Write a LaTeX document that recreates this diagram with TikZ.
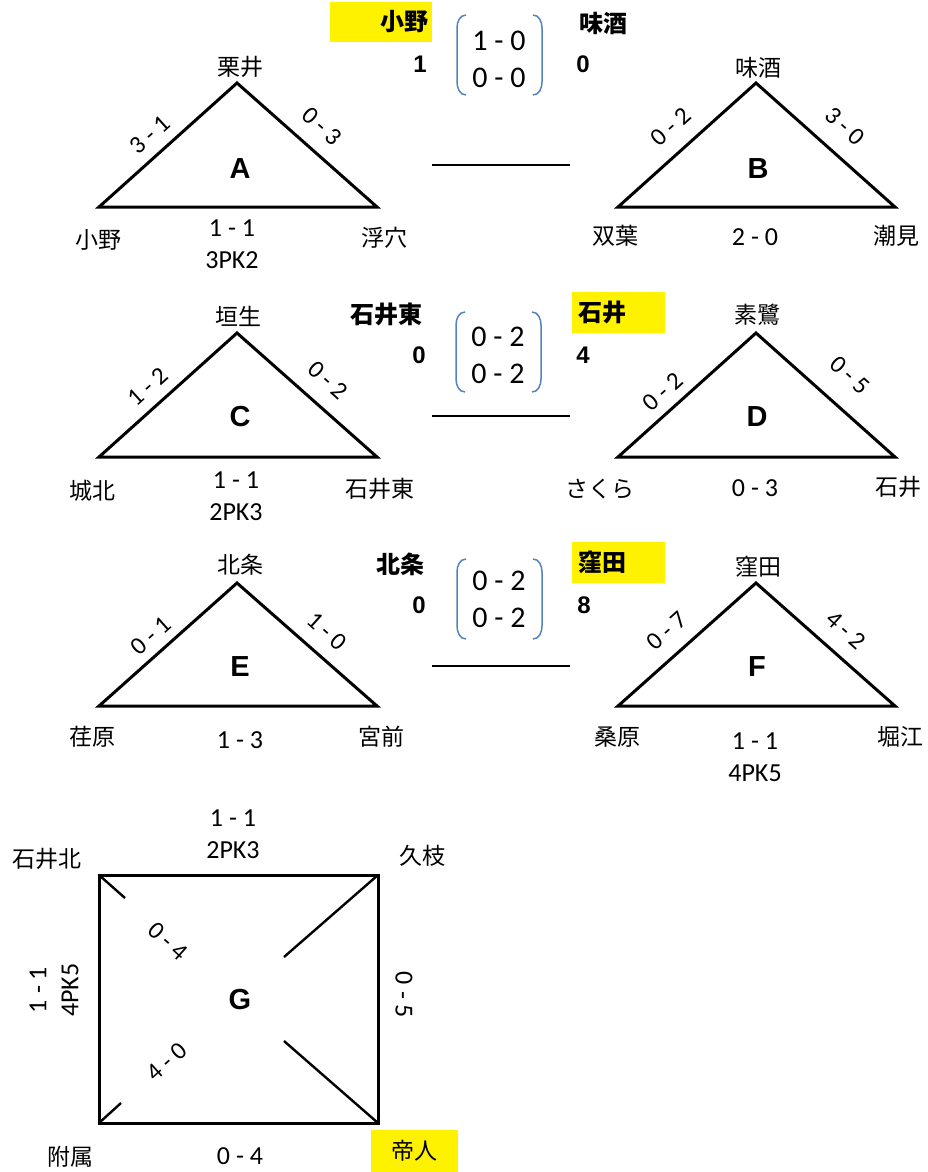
\documentclass[tikz,border=0pt]{standalone}
\usepackage{fontspec}
\setmainfont{Noto Sans CJK JP}
\newfontfamily\numfont{Carlito}
\newfontfamily\latfont{Liberation Sans}
\definecolor{bracketblue}{RGB}{84,130,190}
\tikzset{
    team/.style={inner sep=0pt, font=\fontsize{23}{26}\selectfont},
    head/.style={inner sep=0pt, font=\fontsize{24}{26}\selectfont\bfseries},
    score/.style={inner sep=0pt, align=center, font=\numfont\fontsize{26}{32}\selectfont},
    side/.style={inner sep=0pt, font=\numfont\fontsize{25}{28}\selectfont},
    final/.style={inner sep=0pt, align=center, font=\numfont\fontsize{30}{37}\selectfont},
    group/.style={inner sep=0pt, font=\latfont\fontsize{29}{30}\selectfont\bfseries},
    goals/.style={inner sep=0pt, font=\latfont\fontsize{24}{24}\selectfont\bfseries},
    winner/.style={fill=yellow, minimum width=93pt, minimum height=41pt, text width=81pt},
    league/.style={line width=3pt},
    cut/.style={line width=2.4pt},
    link/.style={line width=2.2pt},
    paren/.style={draw=bracketblue, line width=1.5pt},
}
\begin{document}
\begin{tikzpicture}[x=1pt, y=-1pt]
    \useasboundingbox (0,0) rectangle (928,1172);
    % group A
    \coordinate (a1) at (237,83);
    \coordinate (a2) at (99,207);
    \coordinate (a3) at (377,207);
    \draw[league] (a1) -- (a2) -- (a3) -- cycle;
    \node[team] (kurii) at (240,67) {栗井};
    \node[team] (ono) at (98,240) {小野};
    \node[team] (ukena) at (384,238) {浮穴};
    \node[side, rotate=42] (a12) at (150,135) {3 - 1};
    \node[side, rotate=-42] (a13) at (322,126) {0 - 3};
    \node[score] (a23) at (232,244) {1 - 1\\3PK2};
    \node[group] (ga) at (240,169) {A};
    % group B
    \coordinate (b1) at (756,83);
    \coordinate (b2) at (618,207);
    \coordinate (b3) at (895,207);
    \draw[league] (b1) -- (b2) -- (b3) -- cycle;
    \node[team] (misake) at (758,68) {味酒};
    \node[team] (futaba) at (615,236) {双葉};
    \node[team] (ushiomi) at (896,236) {潮見};
    \node[side, rotate=42] (b12) at (671,127) {0 - 2};
    \node[side, rotate=-42] (b13) at (845,126) {3 - 0};
    \node[score] (b23) at (755,237) {2 - 0};
    \node[group] (gb) at (758,169) {B};
    % final A-B
    \node[head, winner, minimum width=102pt, minimum height=40pt, text width=94pt, align=right] (win1) at (381,22) {小野};
    \node[head] (lose1) at (603,23) {味酒};
    \node[goals] (g1l) at (420,64) {1};
    \node[goals] (g1r) at (583,64) {0};
    \node[final] (s1) at (499,59) {1 - 0\\0 - 0};
    \draw[paren] (466,15) to[out=180, in=90] (457,28) -- (457,82) to[out=-90, in=180] (466,95);
    \draw[paren] (533,15) to[out=0, in=90] (542,28) -- (542,82) to[out=-90, in=0] (533,95);
    \coordinate (l1a) at (432,165);
    \coordinate (l1b) at (570,165);
    \draw[link] (l1a) -- (l1b);
    % group C
    \coordinate (c1) at (237,333);
    \coordinate (c2) at (99,457);
    \coordinate (c3) at (377,457);
    \draw[league] (c1) -- (c2) -- (c3) -- cycle;
    \node[team] (hanyu) at (238,316) {垣生};
    \node[team] (johoku) at (92,491) {城北};
    \node[team] (ishiihigashi) at (380,489) {石井東};
    \node[side, rotate=42] (c12) at (148,387) {1 - 2};
    \node[side, rotate=-42] (c13) at (328,380) {0 - 2};
    \node[score] (c23) at (236,496) {1 - 1\\2PK3};
    \node[group] (gc) at (240,417) {C};
    % group D
    \coordinate (d1) at (756,333);
    \coordinate (d2) at (618,457);
    \coordinate (d3) at (895,457);
    \draw[league] (d1) -- (d2) -- (d3) -- cycle;
    \node[team] (sosagi) at (757,315) {素鷺};
    \node[team] (sakura) at (600,489) {さくら};
    \node[team] (ishii) at (898,487) {石井};
    \node[side, rotate=42] (d12) at (663,392) {0 - 2};
    \node[side, rotate=-42] (d13) at (850,375) {0 - 5};
    \node[score] (d23) at (755,488) {0 - 3};
    \node[group] (gd) at (757,417) {D};
    % final C-D
    \node[head] (lose2) at (386,314) {石井東};
    \node[head, winner, align=left] (win2) at (618.5,312.5) {石井};
    \node[goals] (g2l) at (419,355) {0};
    \node[goals] (g2r) at (583,355) {4};
    \node[final] (s2) at (498,355) {0 - 2\\0 - 2};
    \draw[paren] (465,312) to[out=180, in=90] (456,325) -- (456,379) to[out=-90, in=180] (465,392);
    \draw[paren] (532,312) to[out=0, in=90] (541,325) -- (541,379) to[out=-90, in=0] (532,392);
    \coordinate (l2a) at (432,416);
    \coordinate (l2b) at (570,416);
    \draw[link] (l2a) -- (l2b);
    % group E
    \coordinate (e1) at (237,583);
    \coordinate (e2) at (99,706);
    \coordinate (e3) at (377,706);
    \draw[league] (e1) -- (e2) -- (e3) -- cycle;
    \node[team] (hojo) at (240,565) {北条};
    \node[team] (ebara) at (92,737) {荏原};
    \node[team] (miyamae) at (381,737) {宮前};
    \node[side, rotate=42] (e12) at (151,636) {0 - 1};
    \node[side, rotate=-42] (e13) at (327,631) {1 - 0};
    \node[score] (e23) at (240,740) {1 - 3};
    \node[group] (ge) at (240,667) {E};
    % group F
    \coordinate (f1) at (756,583);
    \coordinate (f2) at (618,706);
    \coordinate (f3) at (895,706);
    \draw[league] (f1) -- (f2) -- (f3) -- cycle;
    \node[team] (kubota) at (758,567) {窪田};
    \node[team] (kuwabara) at (617,737) {桑原};
    \node[team] (horie) at (900,737) {堀江};
    \node[side, rotate=42] (f12) at (667,631) {0 - 7};
    \node[side, rotate=-42] (f13) at (846,630) {4 - 2};
    \node[score] (f23) at (755,757) {1 - 1\\4PK5};
    \node[group] (gf) at (757,667) {F};
    % final E-F
    \node[head] (lose3) at (400,564) {北条};
    \node[head, winner, align=left] (win3) at (618.5,562.5) {窪田};
    \node[goals] (g3l) at (419,605) {0};
    \node[goals] (g3r) at (584,605) {8};
    \node[final] (s3) at (499,599) {0 - 2\\0 - 2};
    \draw[paren] (466,559) to[out=180, in=90] (457,572) -- (457,626) to[out=-90, in=180] (466,639);
    \draw[paren] (533,559) to[out=0, in=90] (542,572) -- (542,626) to[out=-90, in=0] (533,639);
    \coordinate (l3a) at (432,666);
    \coordinate (l3b) at (570,666);
    \draw[link] (l3a) -- (l3b);
    % group G
    \coordinate (h1) at (99,875);
    \coordinate (h2) at (378,875);
    \coordinate (h3) at (378,1123);
    \coordinate (h4) at (99,1123);
    \coordinate (h1c) at (125,898);
    \coordinate (h2c) at (284,957);
    \coordinate (h3c) at (284,1041);
    \coordinate (h4c) at (121,1103);
    \draw[league] (h1) -- (h2) -- (h3) -- (h4) -- cycle;
    \draw[cut] (h1) -- (h1c);
    \draw[cut] (h2) -- (h2c);
    \draw[cut] (h3) -- (h3c);
    \draw[cut] (h4) -- (h4c);
    \node[team] (ishiikita) at (47,859) {石井北};
    \node[team] (hisaeda) at (422,856) {久枝};
    \node[team] (fuzoku) at (70,1157) {附属};
    \node[team, fill=yellow, minimum width=87pt, minimum height=42pt] (teijin) at (414.5,1151) {帝人};
    \node[score] (h12) at (233,834) {1 - 1\\2PK3};
    \node[score, rotate=90] (h14) at (54,990) {1 - 1\\4PK5};
    \node[score, rotate=-90] (h23) at (404,995) {0 - 5};
    \node[score] (h34) at (240,1156) {0 - 4};
    \node[side, rotate=-42] (h13) at (168,941) {0 - 4};
    \node[side, rotate=42] (h24) at (167,1062) {4 - 0};
    \node[group] (gg) at (240,1000) {G};
\end{tikzpicture}
\end{document}
